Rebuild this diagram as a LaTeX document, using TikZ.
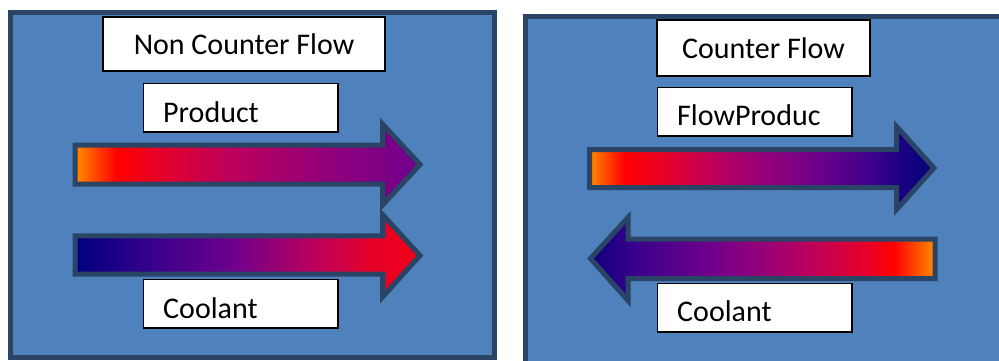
\documentclass[tikz,border=0pt]{standalone}
\usepackage{fontspec}
\setmainfont{Carlito}

% palette
\definecolor{panelblue}{RGB}{79,129,189}
\definecolor{paneledge}{RGB}{42,68,102}
\definecolor{hotorange}{RGB}{255,140,0}
\definecolor{hotred}{RGB}{255,0,0}
\definecolor{crimson}{RGB}{230,0,40}
\definecolor{rosepink}{RGB}{190,0,90}
\definecolor{plum}{RGB}{150,0,120}
\definecolor{violet}{RGB}{110,0,140}
\definecolor{indigo}{RGB}{60,0,140}
\definecolor{deepnavy}{RGB}{15,0,125}
\definecolor{navy}{RGB}{0,0,128}
\definecolor{warmred}{RGB}{240,0,20}

% colour ramps; the path is fitted into the 25bp..75bp band
\pgfdeclarehorizontalshading{prodplain}{100bp}{color(0bp)=(hotorange); color(25bp)=(hotorange); color(31bp)=(hotred); color(37bp)=(crimson); color(47bp)=(rosepink); color(60bp)=(plum); color(75bp)=(violet); color(100bp)=(violet)}
\pgfdeclarehorizontalshading{coolplain}{100bp}{color(0bp)=(navy); color(25bp)=(navy); color(37bp)=(indigo); color(48bp)=(violet); color(60bp)=(rosepink); color(68bp)=(crimson); color(75bp)=(warmred); color(100bp)=(warmred)}
\pgfdeclarehorizontalshading{prodcounter}{100bp}{color(0bp)=(hotorange); color(25bp)=(hotorange); color(30bp)=(hotred); color(36bp)=(crimson); color(43bp)=(rosepink); color(50bp)=(plum); color(58bp)=(violet); color(66bp)=(indigo); color(72bp)=(deepnavy); color(100bp)=(deepnavy)}
\pgfdeclarehorizontalshading{coolcounter}{100bp}{color(0bp)=(deepnavy); color(25bp)=(deepnavy); color(32bp)=(indigo); color(42bp)=(violet); color(50bp)=(plum); color(57bp)=(rosepink); color(65bp)=(crimson); color(69bp)=(hotred); color(75bp)=(hotorange); color(100bp)=(hotorange)}

\begin{document}
\begin{tikzpicture}[x=1pt,y=-1pt,
  panel/.style={fill=panelblue, draw=paneledge, line width=5pt},
  flowarrow/.style={draw=paneledge, line width=5pt, line join=miter},
  labelbox/.style={draw=black, fill=white, line width=1.6pt, inner sep=0pt},
  labeltext/.style={font=\fontsize{30}{36}\selectfont, inner sep=0pt}]
\useasboundingbox (0,0) rectangle (999,360);
\fill[white] (0,0) rectangle (999,360);

% the two panels
\draw[panel] (10.5,12.5) rectangle (494.5,357);
\draw[panel] (525,16.5) rectangle (1012,372);

% ---- parallel flow ----
\node[labelbox, labeltext, minimum width=282.4, minimum height=54.4] (plaintitle) at (244,44) {Non Counter Flow};
\node[labelbox, anchor=north west, minimum width=194.4, minimum height=48.4] (plainprodbox) at (142.8,82.8) {};
\node[labeltext, anchor=base west] (plainprodtext) at (163,122.5) {Product};

\shadedraw[flowarrow, shading=prodplain]
  (75.2,145) -- (382.5,145) -- (382.5,124) -- (420,164.5) -- (382.5,205)
  -- (382.5,184.2) -- (75.2,184.2) -- cycle;
\shadedraw[flowarrow, shading=coolplain]
  (75.2,235.8) -- (382.5,235.8) -- (382.5,214.5) -- (420,255.5) -- (382.5,297)
  -- (382.5,274.2) -- (75.2,274.2) -- cycle;

\node[labelbox, anchor=north west, minimum width=194.4, minimum height=48.4] (plaincoolbox) at (142.8,278.8) {};
\node[labeltext, anchor=base west] (plaincooltext) at (163,318.3) {Coolant};

% ---- counter flow ----
\node[labelbox, labeltext, minimum width=213.4, minimum height=56.4] (countertitle) at (763.5,48) {Counter Flow};
\node[labelbox, anchor=north west, minimum width=194.4, minimum height=48.4] (counterprodbox) at (656.8,86.8) {};
\node[labeltext, anchor=base west] (counterprodtext) at (677,125) {FlowProduc};

\shadedraw[flowarrow, shading=prodcounter]
  (589.5,149.5) -- (896.5,149.5) -- (896.5,126.5) -- (934,168) -- (896.5,209.5)
  -- (896.5,187.5) -- (589.5,187.5) -- cycle;
\shadedraw[flowarrow, shading=coolcounter]
  (935,239) -- (628,239) -- (628,217.5) -- (590.5,258.5) -- (628,300.5)
  -- (628,278.5) -- (935,278.5) -- cycle;

\node[labelbox, anchor=north west, minimum width=194.4, minimum height=48.4] (countercoolbox) at (656.8,282.8) {};
\node[labeltext, anchor=base west] (countercooltext) at (677,321.7) {Coolant};
\end{tikzpicture}
\end{document}
